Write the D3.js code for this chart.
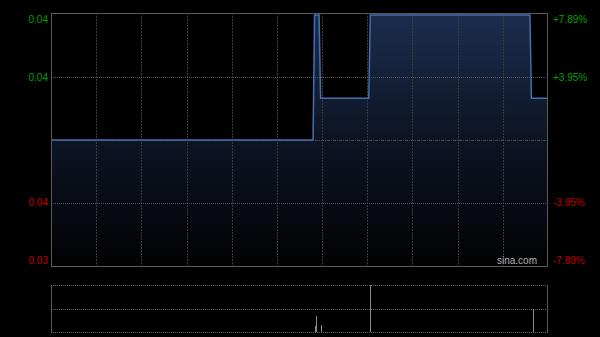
<!DOCTYPE html>
<html><head><meta charset="utf-8">
<script src="https://cdn.jsdelivr.net/npm/d3@7"></script>
<style>html,body{margin:0;padding:0;background:#000;}svg{display:block;}</style>
</head><body>
<svg id="c" width="600" height="337"></svg>
<script>
// ---- data ----
const prevClose = 0.038;
const totalMinutes = 330;            // HK session 9:30-12:00, 13:00-16:00
// price change points: minute index and price
const priceMinutes = [0, 174, 175, 178, 179, 211, 212, 318, 319, 330];
const priceValues  = [0.038, 0.038, 0.041, 0.041, 0.039, 0.039, 0.041, 0.041, 0.039, 0.039];
// volume bars (minute index, relative volume)
const volMinutes = [175, 176, 179, 212, 320];
const volValues  = [13, 34, 15, 100, 49];
// axis ticks
const pctTicks = [0.0789, 0.0395, -0.0395, -0.0789];
const leftTickLabels  = ["0.04", "0.04", "0.04", "0.03"];
const rightTickLabels = ["+7.89%", "+3.95%", "-3.95%", "-7.89%"];
const timeGridCount = 11;

// ---- layout ----
const L = 51, R = 548, T = 13, B = 266;
const VT = 285, VB = 332;
const svg = d3.select("#c");

const x = d3.scaleLinear().domain([0, totalMinutes]).range([L, R]);
const pct = d3.scaleLinear().domain([-0.0789, 0.0789]).range([B - 1, T + 2]);
const y = v => pct(v / prevClose - 1);
const vy = d3.scaleLinear().domain([0, d3.max(volValues)]).range([VB, VT]);

const defs = svg.append("defs");
const grad = defs.append("linearGradient").attr("id", "g")
  .attr("gradientUnits", "userSpaceOnUse").attr("x1", 0).attr("x2", 0).attr("y1", T).attr("y2", B);
grad.append("stop").attr("offset", "0%").attr("stop-color", "#1b2d4e");
grad.append("stop").attr("offset", "50%").attr("stop-color", "#0d1424");
grad.append("stop").attr("offset", "100%").attr("stop-color", "#020203");

const pts = priceMinutes.map((m, i) => [m, priceValues[i]]);

// area
svg.append("path").datum(pts)
  .attr("d", d3.area().x(d => x(d[0])).y0(B).y1(d => y(d[1])))
  .attr("fill", "url(#g)");

// vertical grid
const vg = d3.range(1, timeGridCount).map(i => i * totalMinutes / timeGridCount);
svg.append("g").selectAll("line").data(vg).join("line")
  .attr("x1", d => Math.round(x(d)) + 0.5).attr("x2", d => Math.round(x(d)) + 0.5)
  .attr("y1", T).attr("y2", B)
  .attr("stroke", "#3a3a3a").attr("stroke-dasharray", "2,1");

// horizontal grid
svg.append("g").selectAll("line").data([0.0395, -0.0395]).join("line")
  .attr("x1", L).attr("x2", R)
  .attr("y1", d => Math.round(pct(d)) + 0.5).attr("y2", d => Math.round(pct(d)) + 0.5)
  .attr("stroke", "#555").attr("stroke-dasharray", "1,1");
svg.append("line").attr("x1", L).attr("x2", R)
  .attr("y1", Math.round(pct(0)) + 0.5).attr("y2", Math.round(pct(0)) + 0.5)
  .attr("stroke", "#4a4a4a").attr("stroke-dasharray", "3,1,1,1");

// price line
svg.append("path").datum(pts)
  .attr("d", d3.line().x(d => x(d[0])).y(d => y(d[1])))
  .attr("fill", "none").attr("stroke", "#4470b0").attr("stroke-width", 1.5);

// frame
svg.append("rect").attr("x", L + 0.5).attr("y", T + 0.5).attr("width", R - L - 1).attr("height", B - T)
  .attr("fill", "none").attr("stroke", "#5a5a5a");

// axis labels
const lab = (v) => Math.max(T + 6, Math.min(B - 6, pct(v)));
svg.append("g").selectAll("text").data(pctTicks).join("text")
  .attr("x", 48).attr("y", d => lab(d)).attr("dy", "0.35em")
  .attr("text-anchor", "end")
  .attr("font-family", "Liberation Sans, Arial, sans-serif").attr("font-size", 10)
  .attr("fill", d => d > 0 ? "#00a000" : "#c00000")
  .text((d, i) => leftTickLabels[i]);
svg.append("g").selectAll("text").data(pctTicks).join("text")
  .attr("x", 553).attr("y", d => lab(d)).attr("dy", "0.35em")
  .attr("text-anchor", "start")
  .attr("font-family", "Liberation Sans, Arial, sans-serif").attr("font-size", 10)
  .attr("fill", d => d > 0 ? "#00a000" : "#c00000")
  .text((d, i) => rightTickLabels[i]);

svg.append("text").attr("x", 537).attr("y", 264).attr("text-anchor", "end")
  .attr("font-family", "Liberation Sans, Arial, sans-serif").attr("font-size", 10)
  .attr("fill", "#b0b0b0").text("sina.com");

// volume panel
[VT, (VT + VB) / 2, VB].forEach(yy => {
  svg.append("line").attr("x1", L).attr("x2", R)
    .attr("y1", Math.round(yy) + 0.5).attr("y2", Math.round(yy) + 0.5)
    .attr("stroke", "#666").attr("stroke-dasharray", "1,1");
});
[L, R - 1].forEach(xx => {
  svg.append("line").attr("x1", xx + 0.5).attr("x2", xx + 0.5).attr("y1", VT).attr("y2", VB + 1)
    .attr("stroke", "#5a5a5a");
});
svg.append("g").selectAll("line").data(volMinutes).join("line")
  .attr("x1", d => Math.round(x(d)) + 0.5).attr("x2", d => Math.round(x(d)) + 0.5)
  .attr("y1", VB).attr("y2", (d, i) => vy(volValues[i]))
  .attr("stroke", "#8a8a8a").attr("stroke-width", 1);
</script>
</body></html>
